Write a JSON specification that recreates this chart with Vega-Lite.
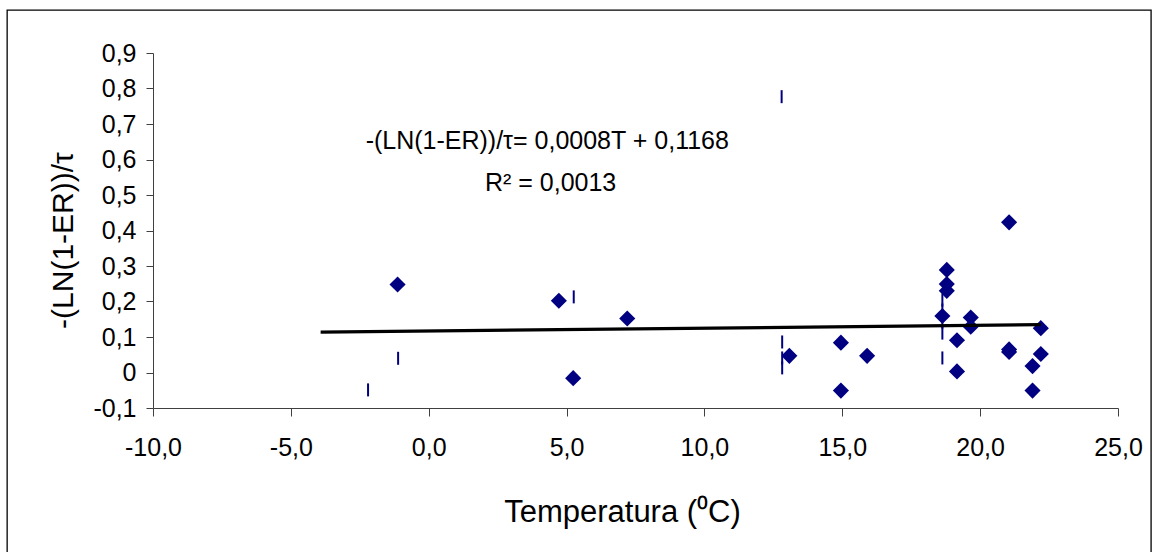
{
  "$schema": "https://vega.github.io/schema/vega-lite/v6.json",
  "width": 965,
  "height": 355,
  "autosize": {"type": "none"},
  "padding": {"left": 153, "top": 53, "right": 42, "bottom": 144},
  "background": "white",
  "config": {
    "locale": {"number": {"decimal": ",", "thousands": ".", "grouping": [3], "currency": ["", " €"], "minus": "-"}},
    "view": {"stroke": null},
    "font": "Liberation Sans",
    "axis": {
      "grid": false,
      "domainColor": "#404040",
      "tickColor": "#404040",
      "domainWidth": 1,
      "tickWidth": 1,
      "labelFont": "Liberation Sans",
      "labelFontSize": 25,
      "labelColor": "#000000",
      "titleFont": "Liberation Sans",
      "titleFontWeight": "normal",
      "titleColor": "#000000",
      "labelFlush": false,
      "labelOverlap": false,
      "labelBound": false
    },
    "axisX": {"tickSize": 8, "labelPadding": 19, "titlePadding": 37, "titleFontSize": 31, "titleX": 469},
    "axisY": {"tickSize": 7, "labelPadding": 10, "titlePadding": 14, "titleFontSize": 30, "titleY": 187}
  },
  "datasets": {
    "diamonds": [
      {"T": -1.13, "v": 0.248},
      {"T": 4.72, "v": 0.202},
      {"T": 7.2, "v": 0.152},
      {"T": 5.24, "v": -0.016},
      {"T": 13.08, "v": 0.047},
      {"T": 14.95, "v": 0.084},
      {"T": 15.9, "v": 0.047},
      {"T": 14.95, "v": -0.051},
      {"T": 21.05, "v": 0.423},
      {"T": 18.79, "v": 0.289},
      {"T": 18.79, "v": 0.249},
      {"T": 18.79, "v": 0.23},
      {"T": 18.63, "v": 0.159},
      {"T": 19.66, "v": 0.155},
      {"T": 19.66, "v": 0.129},
      {"T": 19.16, "v": 0.091},
      {"T": 19.16, "v": 0.003},
      {"T": 22.2, "v": 0.125},
      {"T": 21.05, "v": 0.065},
      {"T": 21.05, "v": 0.058},
      {"T": 22.2, "v": 0.052},
      {"T": 21.9, "v": 0.018},
      {"T": 21.9, "v": -0.051}
    ],
    "dashes": [
      {"T": -2.2, "v": -0.049},
      {"T": -1.11, "v": 0.04},
      {"T": 5.26, "v": 0.213},
      {"T": 12.8, "v": 0.777},
      {"T": 12.82, "v": 0.086},
      {"T": 12.82, "v": 0.041},
      {"T": 12.82, "v": 0.013},
      {"T": 18.63, "v": 0.204},
      {"T": 18.63, "v": 0.176},
      {"T": 18.63, "v": 0.142},
      {"T": 18.63, "v": 0.111},
      {"T": 18.63, "v": 0.041}
    ],
    "trend": [
      {"T": -3.92, "v": 0.1137},
      {"T": 22.2, "v": 0.1346}
    ]
  },
  "layer": [
    {
      "data": {"name": "diamonds"},
      "mark": {"type": "point", "shape": "diamond", "filled": true, "color": "#000080", "size": 260, "opacity": 1},
      "encoding": {
        "x": {"field": "T", "type": "quantitative", "scale": {"domain": [-10, 25], "nice": false, "zero": false},
              "axis": {"title": "Temperatura (⁰C)", "values": [-10, -5, 0, 5, 10, 15, 20, 25], "format": ".1f"}},
        "y": {"field": "v", "type": "quantitative", "scale": {"domain": [-0.1, 0.9], "nice": false, "zero": false},
              "axis": {"title": "-(LN(1-ER))/τ", "values": [-0.1, 0, 0.1, 0.2, 0.3, 0.4, 0.5, 0.6, 0.7, 0.8, 0.9], "format": ".1f", "labelExpr": "abs(datum.value) < 1e-9 ? '0' : datum.label"}}
      }
    },
    {
      "data": {"name": "dashes"},
      "mark": {"type": "tick", "orient": "vertical", "color": "#000080", "size": 13, "thickness": 2, "opacity": 1},
      "encoding": {
        "x": {"field": "T", "type": "quantitative", "scale": {"domain": [-10, 25], "nice": false, "zero": false},
              "axis": {"title": "Temperatura (⁰C)", "values": [-10, -5, 0, 5, 10, 15, 20, 25], "format": ".1f"}},
        "y": {"field": "v", "type": "quantitative", "scale": {"domain": [-0.1, 0.9], "nice": false, "zero": false},
              "axis": {"title": "-(LN(1-ER))/τ", "values": [-0.1, 0, 0.1, 0.2, 0.3, 0.4, 0.5, 0.6, 0.7, 0.8, 0.9], "format": ".1f", "labelExpr": "abs(datum.value) < 1e-9 ? '0' : datum.label"}}
      }
    },
    {
      "data": {"name": "trend"},
      "mark": {"type": "line", "color": "#000000", "strokeWidth": 3.2},
      "encoding": {
        "x": {"field": "T", "type": "quantitative", "scale": {"domain": [-10, 25], "nice": false, "zero": false},
              "axis": {"title": "Temperatura (⁰C)", "values": [-10, -5, 0, 5, 10, 15, 20, 25], "format": ".1f"}},
        "y": {"field": "v", "type": "quantitative", "scale": {"domain": [-0.1, 0.9], "nice": false, "zero": false},
              "axis": {"title": "-(LN(1-ER))/τ", "values": [-0.1, 0, 0.1, 0.2, 0.3, 0.4, 0.5, 0.6, 0.7, 0.8, 0.9], "format": ".1f", "labelExpr": "abs(datum.value) < 1e-9 ? '0' : datum.label"}}
      }
    },
    {
      "data": {"values": [{}]},
      "mark": {"type": "rect", "filled": false, "stroke": "#000000", "strokeWidth": 1.3},
      "encoding": {
        "x": {"datum": -15.29, "type": "quantitative", "scale": {"domain": [-10, 25], "nice": false, "zero": false},
              "axis": {"title": "Temperatura (⁰C)", "values": [-10, -5, 0, 5, 10, 15, 20, 25], "format": ".1f"}},
        "x2": {"datum": 26.2},
        "y": {"datum": 1.021, "type": "quantitative", "scale": {"domain": [-0.1, 0.9], "nice": false, "zero": false},
              "axis": {"title": "-(LN(1-ER))/τ", "values": [-0.1, 0, 0.1, 0.2, 0.3, 0.4, 0.5, 0.6, 0.7, 0.8, 0.9], "format": ".1f", "labelExpr": "abs(datum.value) < 1e-9 ? '0' : datum.label"}},
        "y2": {"datum": -0.6}
      }
    },
    {
      "data": {"values": [{}]},
      "mark": {"type": "text", "font": "Liberation Sans", "fontSize": 25, "color": "#000000", "align": "center", "baseline": "middle", "text": "-(LN(1-ER))/τ= 0,0008T + 0,1168"},
      "encoding": {
        "x": {"datum": 4.3, "type": "quantitative", "scale": {"domain": [-10, 25], "nice": false, "zero": false},
              "axis": {"title": "Temperatura (⁰C)", "values": [-10, -5, 0, 5, 10, 15, 20, 25], "format": ".1f"}},
        "y": {"datum": 0.652, "type": "quantitative", "scale": {"domain": [-0.1, 0.9], "nice": false, "zero": false},
              "axis": {"title": "-(LN(1-ER))/τ", "values": [-0.1, 0, 0.1, 0.2, 0.3, 0.4, 0.5, 0.6, 0.7, 0.8, 0.9], "format": ".1f", "labelExpr": "abs(datum.value) < 1e-9 ? '0' : datum.label"}}
      }
    },
    {
      "data": {"values": [{}]},
      "mark": {"type": "text", "font": "Liberation Sans", "fontSize": 25, "color": "#000000", "align": "center", "baseline": "middle", "text": "R² = 0,0013"},
      "encoding": {
        "x": {"datum": 4.42, "type": "quantitative", "scale": {"domain": [-10, 25], "nice": false, "zero": false},
              "axis": {"title": "Temperatura (⁰C)", "values": [-10, -5, 0, 5, 10, 15, 20, 25], "format": ".1f"}},
        "y": {"datum": 0.535, "type": "quantitative", "scale": {"domain": [-0.1, 0.9], "nice": false, "zero": false},
              "axis": {"title": "-(LN(1-ER))/τ", "values": [-0.1, 0, 0.1, 0.2, 0.3, 0.4, 0.5, 0.6, 0.7, 0.8, 0.9], "format": ".1f", "labelExpr": "abs(datum.value) < 1e-9 ? '0' : datum.label"}}
      }
    }
  ]
}
